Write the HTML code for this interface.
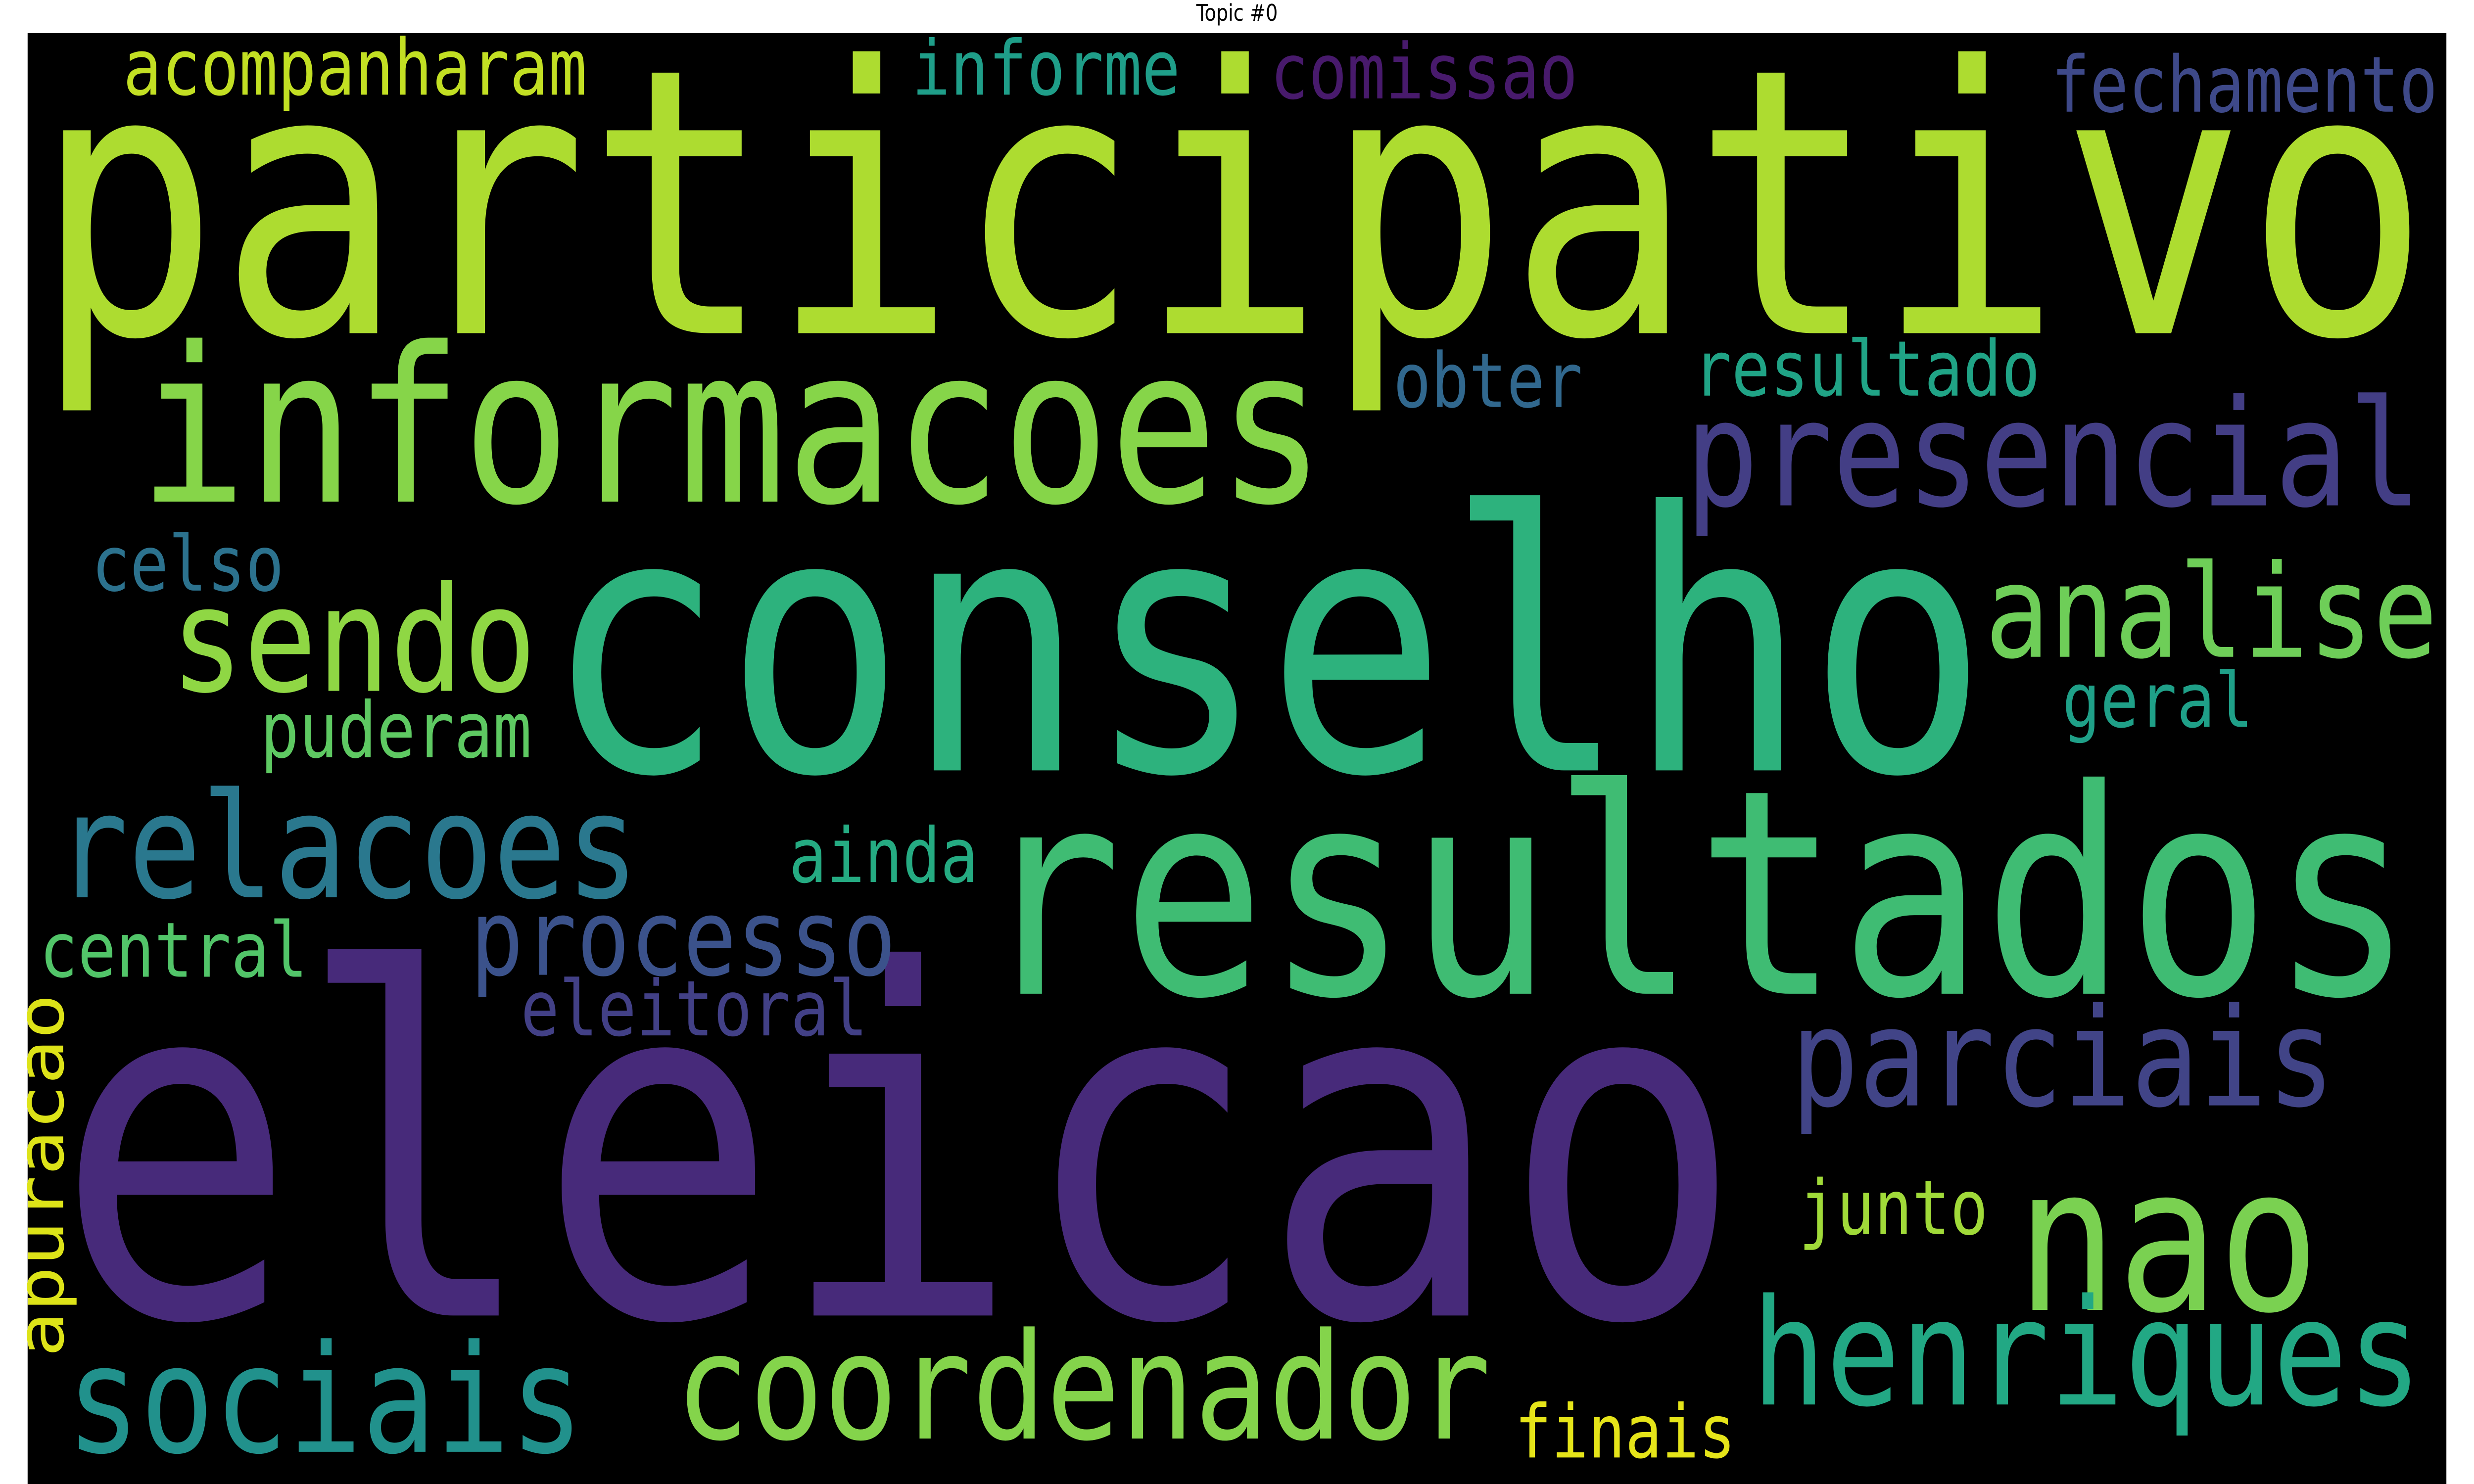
<!DOCTYPE html>
<html><head><meta charset="utf-8">
<style>
html,body{margin:0;padding:0;background:#fff;width:100%;height:100%;overflow:hidden;}
svg{display:block;position:fixed;left:0;top:0;width:100vw;height:100vh;}
</style></head>
<body>
<svg id="chart" viewBox="0 0 1568 784" preserveAspectRatio="none" xmlns="http://www.w3.org/2000/svg">
<rect x="0" y="0" width="1568" height="784" fill="#ffffff"/>
<text x="784" y="11" text-anchor="middle" font-family="DejaVu Sans, Liberation Sans, sans-serif" font-size="12" fill="#000">Topic #0</text>
<rect x="17.5" y="17.5" width="1533" height="767" fill="#000"/>
<g id="words"></g>
</svg>
<script>
const words = ["participativo","eleicao","conselho","resultados","informacoes","presencial","analise","sendo","nao","relacoes","processo","parciais","henriques","sociais","coordenador","acompanharam","informe","comissao","fechamento","obter","resultado","celso","puderam","geral","ainda","central","eleitoral","junto","finais","apuracao"];
const fontSizes = [196,253,190,151,114,78,68,77,106,77,56,72,78,79,78,41,40,40.5,41,40,40.6,40.5,40.8,40,40,40.3,40.6,40,39,41];
const colors = ["#addc30","#472a7a","#2db27d","#3fbc73","#86d549","#433e85","#6ece58","#8fd744","#7ad151","#2a788e","#3b528b","#414487","#22a884","#21918c","#84d44b","#c2df23","#1f9e89","#481a6c","#3e4989","#31688e","#20a486","#2c728e","#5ec962","#1fa088","#25ab82","#52c569","#424086","#a0da39","#e5e419","#dde318"];
// layout (word placement, 1568x784 reference coords)
const layoutX = [22,35,345,620,88,1068,1258,108,1278,35,298,1135,1110,42,428,78,578,805,1300,883,1073,58,165,1307,500,25,330,1140,960,40];
const layoutY = [176,695,407,525,265,267,347,365,692,474,515,584,742,767,760,50,50,52,59,215,209,312,400,384,466,516,547,652,770,717];
const layoutW = [1518,1070,915,910,752,467,287,232,192,370,270,345,425,328,517,294,170,195,245,120,220,122,172,121,120,170,220,120,140,192];
const layoutRot = [0,0,0,0,0,0,0,0,0,0,0,0,0,0,0,0,0,0,0,0,0,0,0,0,0,0,0,0,0,-90];
const g = document.getElementById('words');
const NS = 'http://www.w3.org/2000/svg';
for (let i = 0; i < words.length; i++) {
  const t = document.createElementNS(NS, 'text');
  
  
  t.setAttribute('font-family', 'DejaVu Sans Mono, Liberation Mono, monospace');
  t.setAttribute('font-size', fontSizes[i]);
  t.setAttribute('fill', colors[i]);
  t.setAttribute('textLength', layoutW[i]);
  t.setAttribute('lengthAdjust', 'spacingAndGlyphs');
  if (layoutRot[i]) {
    t.setAttribute('transform', 'translate(' + layoutX[i] + ',' + layoutY[i] + ') rotate(' + layoutRot[i] + ')');
  } else {
    t.setAttribute('x', layoutX[i]);
    t.setAttribute('y', layoutY[i]);
  }
  t.textContent = words[i];
  g.appendChild(t);
}
</script>
</body></html>
